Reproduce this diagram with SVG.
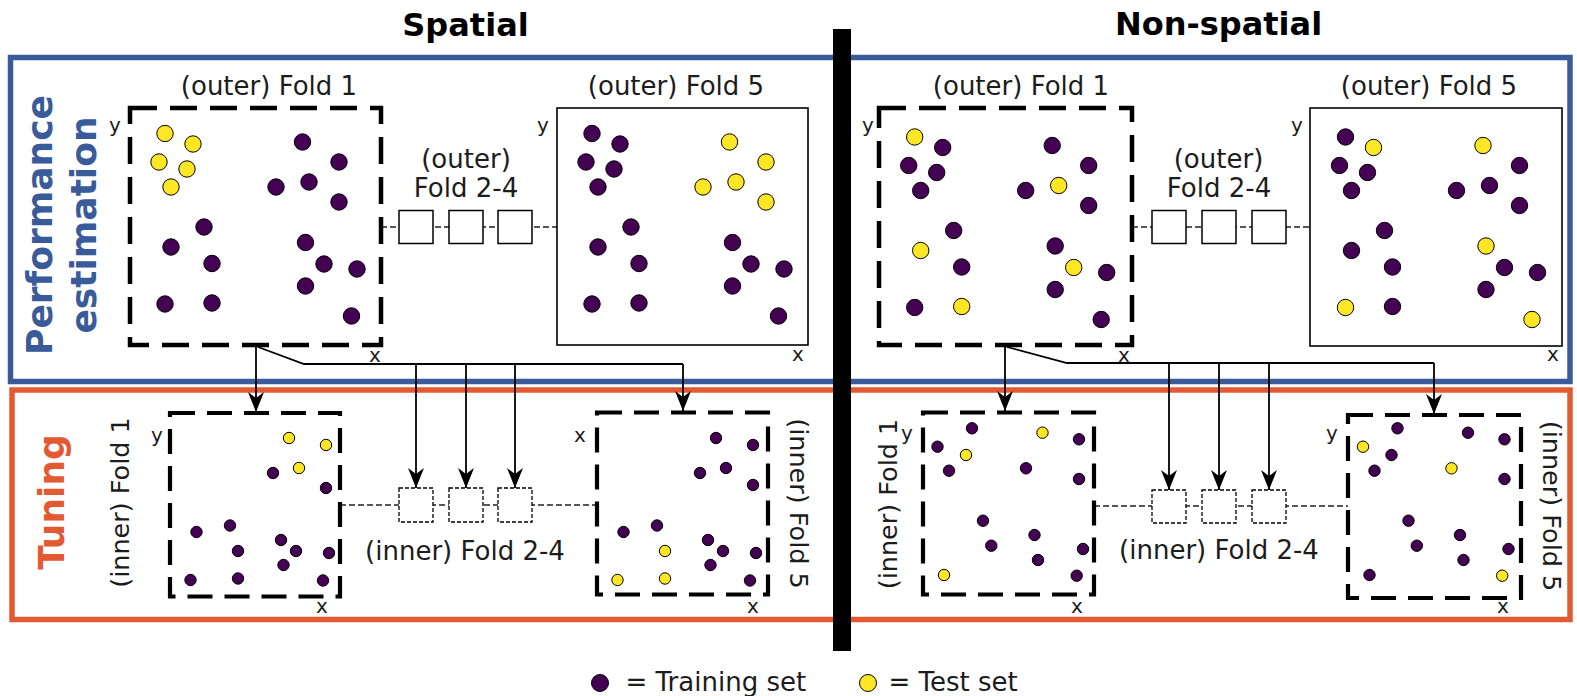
<svg xmlns="http://www.w3.org/2000/svg" width="1577" height="696" viewBox="0 0 1577 696">
<style>
text { font-family: "DejaVu Sans", "Liberation Sans", sans-serif; fill: #1c1c1c; }
.lb { font-size: 26px; }
.lbr { font-size: 25.5px; }
.ax { font-size: 20px; }
.ttl { font-size: 32px; font-weight: bold; fill: #000; }
.sec { font-size: 36px; font-weight: bold; }
.dash { fill: #fff; stroke: #000; stroke-width: 4.5; stroke-dasharray: 27 13; }
.dashi { fill: #fff; stroke: #000; stroke-width: 4.2; stroke-dasharray: 25 12; }
.solid { fill: #fff; stroke: #000; stroke-width: 1.6; }
.sq { fill: #fff; stroke: #000; stroke-width: 1.5; }
.sqd { fill: #fff; stroke: #000; stroke-width: 1.3; stroke-dasharray: 4 2; }
.cd { fill: none; stroke: #222; stroke-width: 1.3; stroke-dasharray: 6 3; }
.c { fill: none; stroke: #000; stroke-width: 1.8; }
.ca { fill: none; stroke: #000; stroke-width: 1.8; marker-end: url(#ah); }
.tr { fill: #440154; stroke: #000; stroke-width: 1; }
.te { fill: #fde725; stroke: #000; stroke-width: 1; }
</style>
<defs>
<marker id="ah" markerUnits="userSpaceOnUse" markerWidth="22" markerHeight="18" viewBox="0 0 22 18" refX="20" refY="9" orient="auto">
<path d="M0,1 L20,9 L0,17 L6,9 Z" fill="#000"/>
</marker>
</defs>
<rect width="1577" height="696" fill="#fff"/>

<g id="titles">
<text class="ttl" x="465.5" y="36" text-anchor="middle">Spatial</text>
<text class="ttl" x="1218.5" y="35" text-anchor="middle">Non-spatial</text>
</g>

<g id="section-performance">
<rect x="10.5" y="57.5" width="1559.5" height="324" fill="none" stroke="#3a5b9a" stroke-width="5.5"/>
<text class="sec" style="fill:#3a5b9a" transform="translate(52,225) rotate(-90)" text-anchor="middle">Performance</text>
<text class="sec" style="fill:#3a5b9a" transform="translate(96,225) rotate(-90)" text-anchor="middle">estimation</text>
</g>
<g id="section-tuning">
<rect x="12" y="390" width="1558" height="229.5" fill="none" stroke="#e35a32" stroke-width="5.5"/>
<text class="sec" style="fill:#e35a32" transform="translate(64,502) rotate(-90)" text-anchor="middle">Tuning</text>
</g>

<g id="connectors">
<line class="cd" x1="381" y1="227" x2="557" y2="227"/>
<line class="cd" x1="1132" y1="227" x2="1310" y2="227"/>
<line class="cd" x1="340" y1="505" x2="597" y2="505"/>
<line class="cd" x1="1094" y1="506" x2="1348" y2="506"/>
<path class="c" d="M258,347 L304,364 L683,364"/>
<path class="ca" d="M256,346 L256,412"/>
<path class="ca" d="M416,364 L416,488"/>
<path class="ca" d="M466,364 L466,488"/>
<path class="ca" d="M515,364 L515,488"/>
<path class="ca" d="M683,364 L683,411"/>
<path class="c" d="M1007,347 L1067,363 L1434,363"/>
<path class="ca" d="M1005,346 L1005,411"/>
<path class="ca" d="M1169,363 L1169,490"/>
<path class="ca" d="M1219,363 L1219,490"/>
<path class="ca" d="M1269,363 L1269,490"/>
<path class="ca" d="M1434,363 L1434,414"/>
</g>

<g id="sp-outer-fold1">
<rect class="dash" x="130" y="108" width="251" height="237"/>
<text class="lb" x="269" y="95" text-anchor="middle">(outer) Fold 1</text>
<text class="ax" x="115" y="132" text-anchor="middle">y</text>
<text class="ax" x="375" y="362" text-anchor="middle">x</text>
<g transform="translate(130,108)">
<circle class="te" cx="35" cy="25.5" r="8.2"/><circle class="te" cx="63" cy="36" r="8.2"/><circle class="te" cx="29" cy="54" r="8.2"/><circle class="te" cx="57" cy="61" r="8.2"/><circle class="te" cx="41" cy="79" r="8.2"/>
<circle class="tr" cx="172.5" cy="34" r="8.2"/><circle class="tr" cx="209" cy="54" r="8.2"/><circle class="tr" cx="179" cy="74" r="8.2"/><circle class="tr" cx="146" cy="79" r="8.2"/><circle class="tr" cx="209" cy="94" r="8.2"/>
<circle class="tr" cx="74" cy="119" r="8.2"/><circle class="tr" cx="41" cy="139" r="8.2"/><circle class="tr" cx="82" cy="155.5" r="8.2"/><circle class="tr" cx="175.5" cy="134.5" r="8.2"/><circle class="tr" cx="194" cy="156" r="8.2"/>
<circle class="tr" cx="227" cy="161" r="8.2"/><circle class="tr" cx="175.5" cy="178" r="8.2"/><circle class="tr" cx="35" cy="196" r="8.2"/><circle class="tr" cx="82" cy="195" r="8.2"/><circle class="tr" cx="221.5" cy="208" r="8.2"/>
</g>
</g>

<g id="sp-outer-fold2-4">
<text class="lb" x="466" y="168" text-anchor="middle">(outer)</text>
<text class="lb" x="466" y="197" text-anchor="middle">Fold 2-4</text>
<rect class="sq" x="399" y="210.5" width="34" height="33"/>
<rect class="sq" x="449" y="210.5" width="34" height="33"/>
<rect class="sq" x="498" y="210.5" width="34" height="33"/>
</g>

<g id="sp-outer-fold5">
<rect class="solid" x="557" y="108" width="251" height="237"/>
<text class="lb" x="676" y="95" text-anchor="middle">(outer) Fold 5</text>
<text class="ax" x="543" y="132" text-anchor="middle">y</text>
<text class="ax" x="798" y="361" text-anchor="middle">x</text>
<g transform="translate(557,108)">
<circle class="tr" cx="35" cy="25.5" r="8.2"/><circle class="tr" cx="63" cy="36" r="8.2"/><circle class="tr" cx="29" cy="54" r="8.2"/><circle class="tr" cx="57" cy="61" r="8.2"/><circle class="tr" cx="41" cy="79" r="8.2"/>
<circle class="te" cx="172.5" cy="34" r="8.2"/><circle class="te" cx="209" cy="54" r="8.2"/><circle class="te" cx="179" cy="74" r="8.2"/><circle class="te" cx="146" cy="79" r="8.2"/><circle class="te" cx="209" cy="94" r="8.2"/>
<circle class="tr" cx="74" cy="119" r="8.2"/><circle class="tr" cx="41" cy="139" r="8.2"/><circle class="tr" cx="82" cy="155.5" r="8.2"/><circle class="tr" cx="175.5" cy="134.5" r="8.2"/><circle class="tr" cx="194" cy="156" r="8.2"/>
<circle class="tr" cx="227" cy="161" r="8.2"/><circle class="tr" cx="175.5" cy="178" r="8.2"/><circle class="tr" cx="35" cy="196" r="8.2"/><circle class="tr" cx="82" cy="195" r="8.2"/><circle class="tr" cx="221.5" cy="208" r="8.2"/>
</g>
</g>

<g id="ns-outer-fold1">
<rect class="dash" x="879" y="108" width="253" height="237"/>
<text class="lb" x="1021" y="95" text-anchor="middle">(outer) Fold 1</text>
<text class="ax" x="868" y="132" text-anchor="middle">y</text>
<text class="ax" x="1124" y="362" text-anchor="middle">x</text>
<g transform="translate(879.7,111.5)">
<circle class="te" cx="35" cy="25.5" r="8.2"/><circle class="tr" cx="63" cy="36" r="8.2"/><circle class="tr" cx="29" cy="54" r="8.2"/><circle class="tr" cx="57" cy="61" r="8.2"/><circle class="tr" cx="41" cy="79" r="8.2"/>
<circle class="tr" cx="172.5" cy="34" r="8.2"/><circle class="tr" cx="209" cy="54" r="8.2"/><circle class="te" cx="179" cy="74" r="8.2"/><circle class="tr" cx="146" cy="79" r="8.2"/><circle class="tr" cx="209" cy="94" r="8.2"/>
<circle class="tr" cx="74" cy="119" r="8.2"/><circle class="te" cx="41" cy="139" r="8.2"/><circle class="tr" cx="82" cy="155.5" r="8.2"/><circle class="tr" cx="175.5" cy="134.5" r="8.2"/><circle class="te" cx="194" cy="156" r="8.2"/>
<circle class="tr" cx="227" cy="161" r="8.2"/><circle class="tr" cx="175.5" cy="178" r="8.2"/><circle class="tr" cx="35" cy="196" r="8.2"/><circle class="te" cx="82" cy="195" r="8.2"/><circle class="tr" cx="221.5" cy="208" r="8.2"/>
</g>
</g>

<g id="ns-outer-fold2-4">
<text class="lb" x="1218.5" y="168" text-anchor="middle">(outer)</text>
<text class="lb" x="1219" y="197" text-anchor="middle">Fold 2-4</text>
<rect class="sq" x="1152" y="210.5" width="34" height="33"/>
<rect class="sq" x="1202" y="210.5" width="34" height="33"/>
<rect class="sq" x="1252" y="210.5" width="34" height="33"/>
</g>

<g id="ns-outer-fold5">
<rect class="solid" x="1310" y="108" width="252" height="238"/>
<text class="lb" x="1429" y="95" text-anchor="middle">(outer) Fold 5</text>
<text class="ax" x="1297" y="132" text-anchor="middle">y</text>
<text class="ax" x="1553" y="361" text-anchor="middle">x</text>
<g transform="translate(1310.5,111.5)">
<circle class="tr" cx="35" cy="25.5" r="8.2"/><circle class="te" cx="63" cy="36" r="8.2"/><circle class="tr" cx="29" cy="54" r="8.2"/><circle class="tr" cx="57" cy="61" r="8.2"/><circle class="tr" cx="41" cy="79" r="8.2"/>
<circle class="te" cx="172.5" cy="34" r="8.2"/><circle class="tr" cx="209" cy="54" r="8.2"/><circle class="tr" cx="179" cy="74" r="8.2"/><circle class="tr" cx="146" cy="79" r="8.2"/><circle class="tr" cx="209" cy="94" r="8.2"/>
<circle class="tr" cx="74" cy="119" r="8.2"/><circle class="tr" cx="41" cy="139" r="8.2"/><circle class="tr" cx="82" cy="155.5" r="8.2"/><circle class="te" cx="175.5" cy="134.5" r="8.2"/><circle class="tr" cx="194" cy="156" r="8.2"/>
<circle class="tr" cx="227" cy="161" r="8.2"/><circle class="tr" cx="175.5" cy="178" r="8.2"/><circle class="te" cx="35" cy="196" r="8.2"/><circle class="tr" cx="82" cy="195" r="8.2"/><circle class="te" cx="221.5" cy="208" r="8.2"/>
</g>
</g>

<g id="sp-inner-fold1">
<rect class="dashi" x="170" y="413" width="170" height="183.5"/>
<text class="lbr" transform="translate(129,502.5) rotate(-90)" text-anchor="middle">(inner) Fold 1</text>
<text class="ax" x="157" y="441.5" text-anchor="middle">y</text>
<text class="ax" x="322" y="612.5" text-anchor="middle">x</text>
<g transform="translate(170,413)">
<circle class="te" cx="119" cy="25" r="5.7"/><circle class="te" cx="156" cy="32" r="5.7"/><circle class="te" cx="129" cy="55" r="5.7"/>
<circle class="tr" cx="103" cy="60" r="5.7"/><circle class="tr" cx="156" cy="75" r="5.7"/><circle class="tr" cx="26.5" cy="119" r="5.7"/><circle class="tr" cx="60" cy="112.5" r="5.7"/><circle class="tr" cx="68" cy="138" r="5.7"/>
<circle class="tr" cx="111" cy="127" r="5.7"/><circle class="tr" cx="126" cy="138" r="5.7"/><circle class="tr" cx="159" cy="140" r="5.7"/><circle class="tr" cx="113.5" cy="152" r="5.7"/><circle class="tr" cx="20.5" cy="167" r="5.7"/>
<circle class="tr" cx="68" cy="165.5" r="5.7"/><circle class="tr" cx="153" cy="167.5" r="5.7"/>
</g>
</g>

<g id="sp-inner-fold2-4">
<rect class="sqd" x="399" y="488" width="34" height="34"/>
<rect class="sqd" x="449" y="488" width="34" height="34"/>
<rect class="sqd" x="498" y="488" width="34" height="34"/>
<text class="lb" x="465" y="560" text-anchor="middle">(inner) Fold 2-4</text>
</g>

<g id="sp-inner-fold5">
<rect class="dashi" x="597" y="412.5" width="171" height="182"/>
<text class="lbr" transform="translate(790,503.5) rotate(90)" text-anchor="middle">(inner) Fold 5</text>
<text class="ax" x="580" y="441.5" text-anchor="middle">x</text>
<text class="ax" x="753" y="612.5" text-anchor="middle">x</text>
<g transform="translate(597,413)">
<circle class="tr" cx="119" cy="25" r="5.7"/><circle class="tr" cx="156" cy="32" r="5.7"/><circle class="tr" cx="129" cy="55" r="5.7"/>
<circle class="tr" cx="103" cy="60" r="5.7"/><circle class="tr" cx="156" cy="72" r="5.7"/><circle class="tr" cx="26.5" cy="119" r="5.7"/><circle class="tr" cx="60" cy="112.5" r="5.7"/><circle class="te" cx="68" cy="138" r="5.7"/>
<circle class="tr" cx="111" cy="127" r="5.7"/><circle class="tr" cx="126" cy="138" r="5.7"/><circle class="tr" cx="159" cy="140" r="5.7"/><circle class="tr" cx="113.5" cy="152" r="5.7"/><circle class="te" cx="20.5" cy="167" r="5.7"/>
<circle class="te" cx="68" cy="165.5" r="5.7"/><circle class="tr" cx="153" cy="167.5" r="5.7"/>
</g>
</g>

<g id="ns-inner-fold1">
<rect class="dashi" x="923" y="412.5" width="171" height="182"/>
<text class="lbr" transform="translate(897,504) rotate(-90)" text-anchor="middle">(inner) Fold 1</text>
<text class="ax" x="907" y="440" text-anchor="middle">y</text>
<text class="ax" x="1077" y="612.5" text-anchor="middle">x</text>
<g transform="translate(923,412)">
<circle class="tr" cx="49" cy="16.3" r="5.7"/><circle class="te" cx="119.5" cy="20.7" r="5.7"/><circle class="tr" cx="156" cy="27.3" r="5.7"/><circle class="tr" cx="14.5" cy="34.7" r="5.7"/><circle class="te" cx="43" cy="43" r="5.7"/>
<circle class="tr" cx="26" cy="58.7" r="5.7"/><circle class="tr" cx="103" cy="56.3" r="5.7"/><circle class="tr" cx="156" cy="67" r="5.7"/><circle class="tr" cx="60" cy="108.7" r="5.7"/><circle class="tr" cx="111.5" cy="123" r="5.7"/>
<circle class="tr" cx="68.3" cy="133.7" r="5.7"/><circle class="tr" cx="160" cy="137" r="5.7"/><circle class="tr" cx="115" cy="148" r="5.7"/><circle class="te" cx="21" cy="163" r="5.7"/><circle class="tr" cx="153.7" cy="163.7" r="5.7"/>
</g>
</g>

<g id="ns-inner-fold2-4">
<rect class="sqd" x="1152" y="490" width="34" height="33"/>
<rect class="sqd" x="1202" y="490" width="34" height="33"/>
<rect class="sqd" x="1252" y="490" width="34" height="33"/>
<text class="lb" x="1219" y="559" text-anchor="middle">(inner) Fold 2-4</text>
</g>

<g id="ns-inner-fold5">
<rect class="dashi" x="1348" y="415" width="173" height="183"/>
<text class="lbr" transform="translate(1543,506) rotate(90)" text-anchor="middle">(inner) Fold 5</text>
<text class="ax" x="1332" y="440" text-anchor="middle">y</text>
<text class="ax" x="1503" y="612.5" text-anchor="middle">x</text>
<g transform="translate(1348.5,412)">
<circle class="tr" cx="49" cy="16.3" r="5.7"/><circle class="tr" cx="119.5" cy="20.7" r="5.7"/><circle class="tr" cx="156" cy="27.3" r="5.7"/><circle class="te" cx="14.5" cy="34.7" r="5.7"/><circle class="tr" cx="43" cy="43" r="5.7"/>
<circle class="tr" cx="26" cy="58.7" r="5.7"/><circle class="te" cx="103" cy="56.3" r="5.7"/><circle class="tr" cx="156" cy="67" r="5.7"/><circle class="tr" cx="60" cy="108.7" r="5.7"/><circle class="tr" cx="111.5" cy="123" r="5.7"/>
<circle class="tr" cx="68.3" cy="133.7" r="5.7"/><circle class="tr" cx="160" cy="137" r="5.7"/><circle class="tr" cx="115" cy="148" r="5.7"/><circle class="tr" cx="21" cy="163" r="5.7"/><circle class="te" cx="153.7" cy="163.7" r="5.7"/>
</g>
</g>

<g id="divider">
<rect x="833" y="29" width="18" height="622" fill="#000"/>
</g>

<g id="legend">
<circle class="tr" cx="600" cy="683" r="8.5"/>
<text class="lb" x="625.5" y="691">= Training set</text>
<circle class="te" cx="868" cy="683" r="8.5"/>
<text class="lb" x="888.5" y="691">= Test set</text>
</g>
</svg>
